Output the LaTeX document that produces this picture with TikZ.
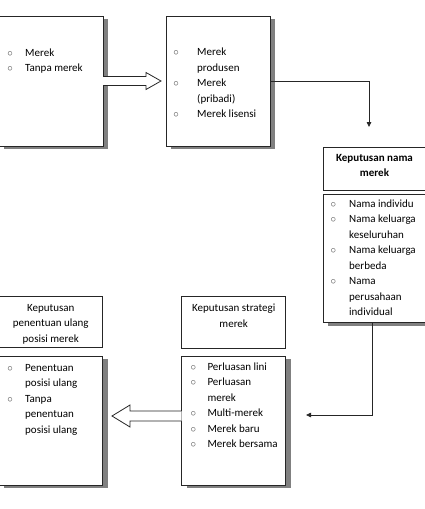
\documentclass[tikz,border=0pt]{standalone}
\usepackage{fontspec}
\setmainfont{Carlito}
\usetikzlibrary{shadows,arrows.meta,calc}
\newcommand\bul{\textcolor{black!70}{$\circ$}}
\begin{document}
\begin{tikzpicture}[x=1pt,y=-1pt,
  box/.style={draw=black!85, line width=0.8pt, fill=white, anchor=north west, inner sep=0pt, outer sep=0pt},
  shbox/.style={box, drop shadow={shadow xshift=5pt, shadow yshift=-3pt, fill=black!50, opacity=1}},
  txt/.style={anchor=base west, inner sep=0pt, font=\fontsize{11}{15.5}\selectfont},
  ttl/.style={anchor=base, inner sep=0pt, align=center, font=\fontsize{11}{15.5}\selectfont},
  conn/.style={draw=black!85, line width=0.8pt, -{Triangle[length=5pt,width=4.5pt]}},
  hollow/.style={draw=black!85, line width=0.8pt, fill=white, line join=miter}
]
\useasboundingbox (0,0) rectangle (424,509);

% boxes
\node[shbox, minimum width=104pt, minimum height=130pt] (b1) at (-1,16) {};
\node[shbox, minimum width=104pt, minimum height=130pt] (b2) at (166,16) {};
\node[box, minimum width=103pt, minimum height=42.5pt] (b3t) at (323,147.5) {};
\node[shbox, minimum width=103pt, minimum height=128.7pt] (b3l) at (323,194) {};
\node[box, minimum width=104pt, minimum height=52.3pt] (b4t) at (181.7,296) {};
\node[shbox, minimum width=104pt, minimum height=129pt] (b4l) at (181.7,356) {};
\node[box, minimum width=103.5pt, minimum height=51pt] (b5t) at (-1,296.5) {};
\node[shbox, minimum width=103.5pt, minimum height=129pt] (b5l) at (-1,356) {};

% texts
\node[txt] (t1) at (7.25,56) {\begin{tabular}[t]{@{}p{17.75pt}@{}l@{}}
\bul & Merek\\
\bul & Tanpa merek
\end{tabular}};
\node[txt] (t2) at (173.25,55.5) {\begin{tabular}[t]{@{}p{23.75pt}@{}l@{}}
\bul & Merek\\
 & produsen\\
\bul & Merek\\
 & (pribadi)\\
\bul & Merek lisensi
\end{tabular}};
\node[ttl, font=\fontsize{11}{15.5}\selectfont\bfseries] (t3t) at (374.5,176.5) {Keputusan nama\\merek};
\node[txt] (t3) at (330.5,207) {\begin{tabular}[t]{@{}p{18.5pt}@{}l@{}}
\bul & Nama individu\\
\bul & Nama keluarga\\
 & keseluruhan\\
\bul & Nama keluarga\\
 & berbeda\\
\bul & Nama\\
 & perusahaan\\
 & individual
\end{tabular}};
\node[ttl] (t4t) at (233.7,327.2) {Keputusan strategi\\merek};
\node[txt] (t4) at (190.5,370) {\begin{tabular}[t]{@{}p{16.8pt}@{}l@{}}
\bul & Perluasan lini\\
\bul & Perluasan\\
 & merek\\
\bul & Multi-merek\\
\bul & Merek baru\\
\bul & Merek bersama
\end{tabular}};
\node[ttl] (t5t) at (50.75,342) {Keputusan\\penentuan ulang\\posisi merek};
\node[txt] (t5) at (7.25,371) {\begin{tabular}[t]{@{}p{17.75pt}@{}l@{}}
\bul & Penentuan\\
 & posisi ulang\\
\bul & Tanpa\\
 & penentuan\\
 & posisi ulang
\end{tabular}};

% hollow block arrows
\draw[hollow] ($(b1.east)+(0,-4.5)$) -- ++(43,0) -- ++(0,-4) -- ++(15,8.5) -- ++(-15,8.5) -- ++(0,-4) -- ++(-43,0);
\draw[hollow] ($(b4l.west)+(0,-9.5)$) -- ++(-51.7,0) -- ++(0,-6) -- ++(-18,11) -- ++(18,11) -- ++(0,-6) -- ++(51.7,0);

% connectors
\coordinate (c1) at (369,127);
\coordinate (c2) at (306,415);
\draw[conn] (b2.east) -| (c1);
\draw[conn] ([xshift=-2.5pt]b3l.south) |- (c2);
\end{tikzpicture}
\end{document}
